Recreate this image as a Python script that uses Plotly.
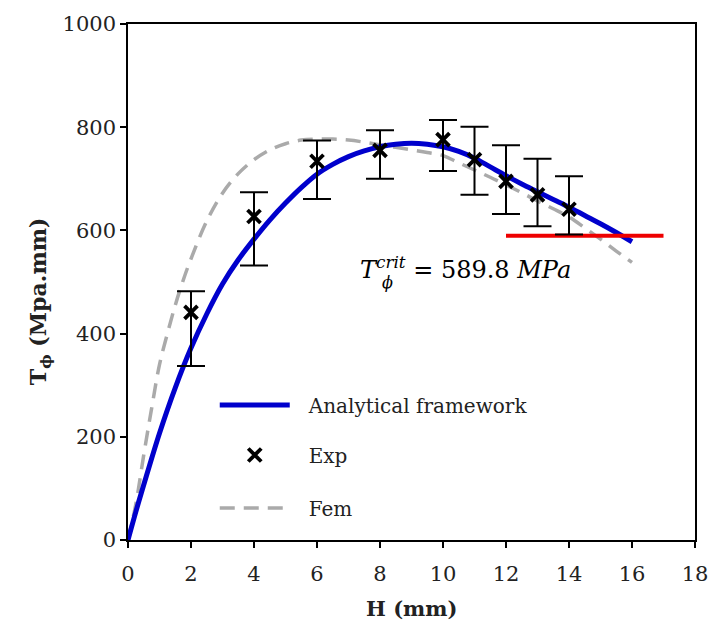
import plotly.graph_objects as go

# Analytical framework curve
h_ana = [0, 0.25, 0.5, 1, 1.5, 2, 2.5, 3, 3.5, 4, 4.5, 5, 5.5, 6, 6.5, 7, 7.5, 8,
         8.5, 9, 9.5, 10, 10.5, 11, 11.5, 12, 12.5, 13, 13.5, 14, 14.5, 15, 15.5, 16]
t_ana = [0, 55, 107, 207, 295, 372, 438, 496, 543, 583, 620, 653, 683, 709, 728, 743,
         754, 762, 767, 769, 767, 762, 753, 740, 723, 706, 690, 675, 660, 645, 629, 613, 596, 578]

# FEM curve
h_fem = [0, 0.25, 0.5, 0.75, 1, 1.25, 1.5, 1.75, 2, 2.5, 3, 3.5, 4, 4.5, 5, 5.5, 6, 6.5, 7,
         7.5, 8, 8.5, 9, 9.5, 10, 10.5, 11, 11.5, 12, 12.5, 13, 13.5, 14, 14.5, 15, 15.5, 16]
t_fem = [0, 70, 165, 255, 340, 400, 455, 503, 545, 618, 672, 710, 737, 756, 768, 775, 777,
         777, 775, 771, 766, 761, 756, 751, 745, 731, 717, 703, 688, 673, 657, 642, 626, 605,
         583, 560, 538]

# Experimental points with error bars
h_exp = [2, 4, 6, 8, 10, 11, 12, 13, 14]
t_exp = [441, 627, 734, 755, 776, 737, 695, 669, 641]
t_exp_hi = [482, 674, 774, 794, 814, 801, 765, 739, 705]
t_exp_lo = [337, 532, 661, 700, 715, 669, 632, 608, 592]

# Critical value line
h_crit = [12, 17]
t_crit_value = 589.8

err_plus = [hi - v for hi, v in zip(t_exp_hi, t_exp)]
err_minus = [v - lo for lo, v in zip(t_exp_lo, t_exp)]

FONT = "DejaVu Serif"
TXT = "#222222"

fig = go.Figure()

fig.add_trace(go.Scatter(
    x=h_fem, y=t_fem, mode="lines", name="\u2002\u2009Fem", legend="legend3",
    line=dict(color="#aaaaaa", width=3.5, dash="15px,9px", shape="spline"),
))
fig.add_trace(go.Scatter(
    x=h_ana, y=t_ana, mode="lines", name="\u2002\u2009Analytical framework", legend="legend",
    line=dict(color="#0000cc", width=5, shape="spline"),
))
fig.add_trace(go.Scatter(
    x=h_crit, y=[t_crit_value] * len(h_crit), mode="lines", showlegend=False,
    line=dict(color="#ee0000", width=4),
))
fig.add_trace(go.Scatter(
    x=h_exp, y=t_exp, mode="markers", name="\u2002\u2009Exp", legend="legend2",
    marker=dict(symbol="x-thin", size=13, color="black",
                line=dict(color="black", width=3.8)),
    error_y=dict(type="data", symmetric=False, array=err_plus, arrayminus=err_minus,
                 color="black", thickness=2, width=14),
))

# critical value label
fig.add_annotation(
    x=7.3, y=527, xref="x", yref="y", showarrow=False, xanchor="left",
    text="<i>T</i><sup><i>crit</i></sup> = 589.8 <i>MPa</i>",
    font=dict(family=FONT, size=24, color="black"),
)
fig.add_annotation(
    x=8.0, y=500, xref="x", yref="y", showarrow=False, xanchor="left",
    text="<i>ϕ</i>",
    font=dict(family=FONT, size=16, color="black"),
)

# axis titles
fig.add_annotation(
    x=0.5, y=-0.132, xref="paper", yref="paper", showarrow=False,
    xanchor="center", yanchor="middle",
    text="<b>H (mm)</b>", font=dict(family=FONT, size=21, color=TXT),
)
fig.add_annotation(
    x=-0.155, y=0.463, xref="paper", yref="paper", showarrow=False,
    xanchor="center", yanchor="middle", textangle=-90,
    text="<b>T<sub>ϕ</sub> (Mpa.mm)</b>", font=dict(family=FONT, size=22, color=TXT),
)

legend_common = dict(font=dict(family=FONT, size=20, color=TXT), itemwidth=70,
                     bgcolor="rgba(0,0,0,0)", xanchor="left", yanchor="middle")

fig.update_layout(
    width=710, height=626,
    margin=dict(l=128, r=15, t=24, b=86),
    paper_bgcolor="white", plot_bgcolor="white",
    font=dict(family=FONT, color="black"),
    legend=dict(x=0.153, y=0.2616, **legend_common),
    legend2=dict(x=0.153, y=0.1647, **legend_common),
    legend3=dict(x=0.153, y=0.062, **legend_common),
    xaxis=dict(
        range=[0, 18], dtick=2, tick0=0, automargin=False,
        showline=True, linecolor="black", linewidth=1.5, mirror=True,
        ticks="outside", ticklen=6, tickcolor="black", tickwidth=1.5,
        ticklabelstandoff=8,
        showgrid=False, zeroline=False,
        tickfont=dict(family=FONT, size=21, color=TXT),
    ),
    yaxis=dict(
        range=[0, 1000], dtick=200, tick0=0, automargin=False,
        showline=True, linecolor="black", linewidth=1.5, mirror=True,
        ticks="outside", ticklen=6, tickcolor="black", tickwidth=1.5,
        showgrid=False, zeroline=False,
        tickfont=dict(family=FONT, size=21, color=TXT),
    ),
)

fig.write_html(
    "out.html",
    config={"displayModeBar": False},
    post_script="document.body.style.margin='0';document.body.style.overflow='hidden';",
)
